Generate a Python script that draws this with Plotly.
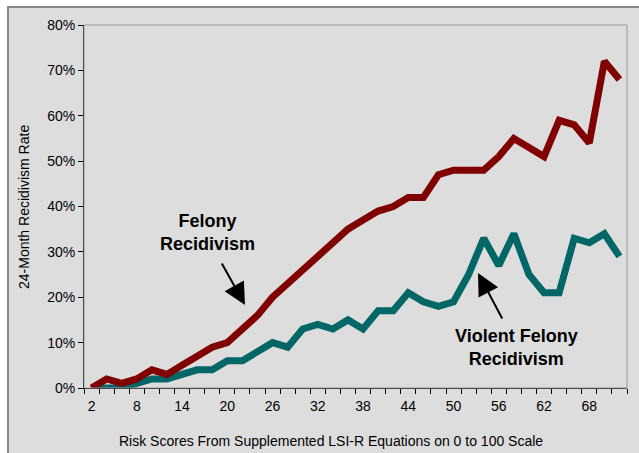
import plotly.graph_objects as go

risk_scores = list(range(2, 73, 2))
felony = [0, 2, 1, 2, 4, 3, 5, 7, 9, 10, 13, 16, 20, 23, 26, 29, 32, 35, 37, 39,
          40, 42, 42, 47, 48, 48, 48, 51, 55, 53, 51, 59, 58, 54, 72, 68]
violent = [0, 0, 0, 1, 2, 2, 3, 4, 4, 6, 6, 8, 10, 9, 13, 14, 13, 15, 13, 17,
           17, 21, 19, 18, 19, 25, 33, 27, 34, 25, 21, 21, 33, 32, 34, 29]
x_tick_labels = [2, 8, 14, 20, 26, 32, 38, 44, 50, 56, 62, 68]
y_ticks = [0, 10, 20, 30, 40, 50, 60, 70, 80]

FONT = "Arial, Liberation Sans, sans-serif"
W, H = 639, 453
L, R, T, B = 84, 12, 25, 65
pw, ph = W - L - R, H - T - B


def px(x):
    return (x - L) / pw


def py(y):
    return (H - B - y) / ph


fig = go.Figure()
fig.add_trace(go.Scatter(x=risk_scores, y=violent, mode="lines",
                         line=dict(color="#006666", width=7), name="Violent Felony Recidivism",
                         hoverinfo="x+y"))
fig.add_trace(go.Scatter(x=risk_scores, y=felony, mode="lines",
                         line=dict(color="#800000", width=7), name="Felony Recidivism",
                         hoverinfo="x+y"))

fig.update_layout(
    width=W, height=H,
    margin=dict(l=L, r=R, t=T, b=B, pad=0),
    paper_bgcolor="white",
    plot_bgcolor="#DDDDDD",
    showlegend=False,
    font=dict(family=FONT, color="black", size=14),
    xaxis=dict(
        range=[1, 73], tickmode="array", tickvals=x_tick_labels,
        ticktext=[str(v) for v in x_tick_labels],
        ticks="outside", ticklen=5, tickcolor="rgba(0,0,0,0)",
        showline=True, linecolor="black", linewidth=1,
        showgrid=False, zeroline=False,
        tickfont=dict(size=14),
        minor=dict(tickmode="linear", tick0=1, dtick=2, ticks="outside",
                   ticklen=5, tickcolor="black", showgrid=False),
    ),
    yaxis=dict(
        range=[0, 80], tickmode="array", tickvals=y_ticks,
        ticktext=[f"{v}%" for v in y_ticks],
        ticks="outside", ticklen=5, tickcolor="black",
        showline=True, linecolor="black", linewidth=1,
        showgrid=False, zeroline=False,
        tickfont=dict(size=14),
    ),
    shapes=[
        dict(type="rect", xref="paper", yref="paper", layer="below",
             x0=px(8), x1=px(W + 20), y0=py(H + 20), y1=py(7),
             fillcolor="#DDDDDD", line=dict(color="#888888", width=2)),
        dict(type="rect", xref="paper", yref="paper", layer="above",
             x0=0, x1=1, y0=0, y1=1, fillcolor="rgba(0,0,0,0)",
             line=dict(color="#999999", width=1)),
    ],
    annotations=[
        dict(text="24-Month Recidivism Rate", xref="paper", yref="paper",
             x=px(24), y=py(207), textangle=-90, showarrow=False,
             font=dict(size=14), xanchor="center", yanchor="middle"),
        dict(text="Risk Scores From Supplemented LSI-R Equations on 0 to 100 Scale",
             xref="paper", yref="paper", x=px(331), y=py(441), showarrow=False,
             font=dict(size=14), xanchor="center", yanchor="middle"),
        dict(text="<b>Felony<br>Recidivism</b>", xref="paper", yref="paper",
             x=px(207), y=py(232), showarrow=False, font=dict(size=18),
             xanchor="center", yanchor="middle"),
        dict(text="<b>Violent Felony<br>Recidivism</b>", xref="paper", yref="paper",
             x=px(516), y=py(347), showarrow=False, font=dict(size=18),
             xanchor="center", yanchor="middle"),
        dict(text="", xref="paper", yref="paper", x=px(245), y=py(305),
             ax=-24, ay=-43, showarrow=True, arrowhead=2, arrowsize=2.2,
             arrowwidth=2, arrowcolor="black", standoff=0),
        dict(text="", xref="paper", yref="paper", x=px(478), y=py(273),
             ax=25, ay=47, showarrow=True, arrowhead=2, arrowsize=2.2,
             arrowwidth=2, arrowcolor="black", standoff=0),
    ],
)

fig.write_html("out.html", config={"displayModeBar": False},
               post_script="document.body.style.margin='0';document.body.style.overflow='hidden';")
